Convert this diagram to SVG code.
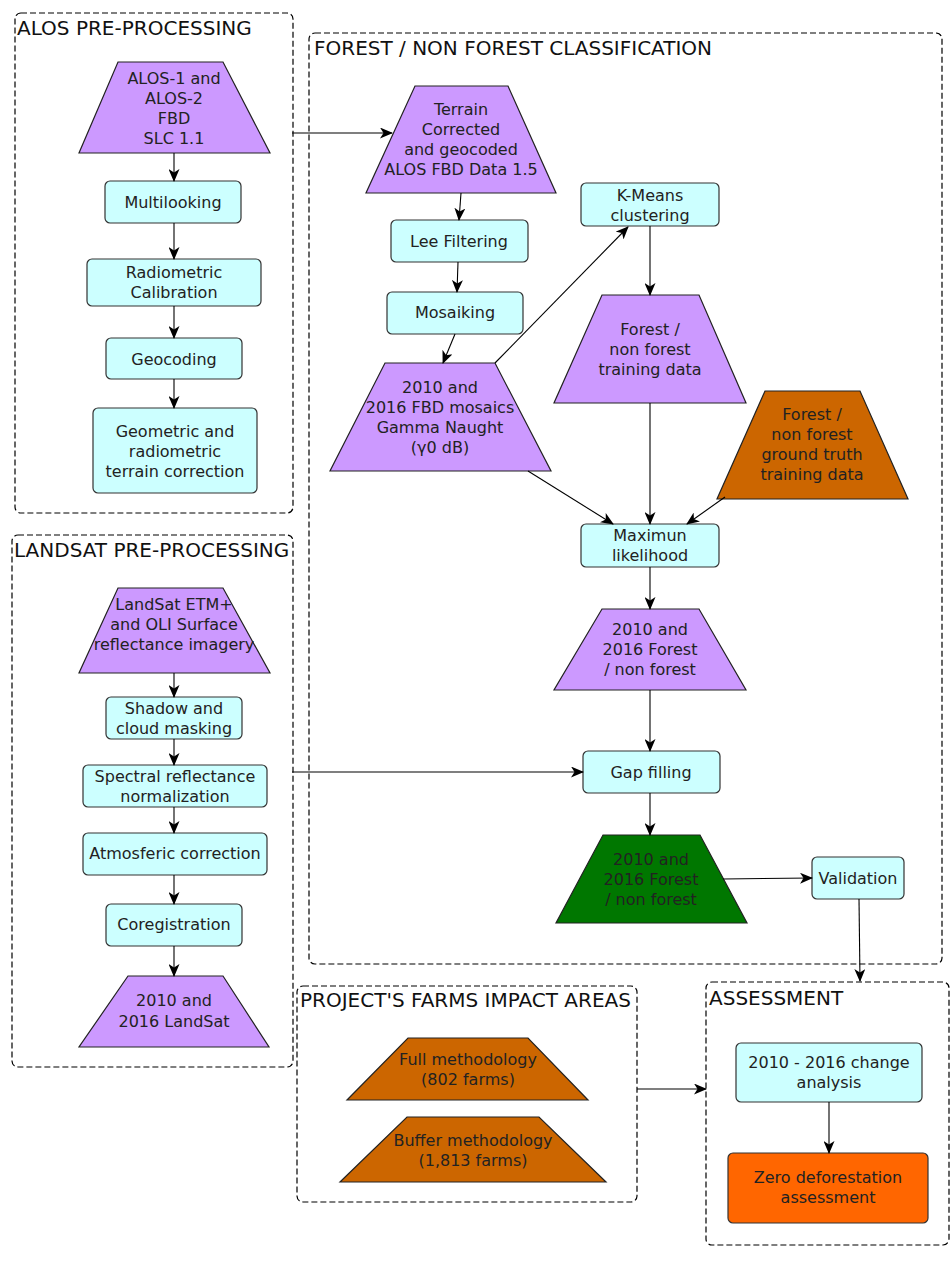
<svg xmlns="http://www.w3.org/2000/svg" width="952" height="1262" viewBox="0 0 952 1262">
<defs>
<marker id="arr" markerWidth="13" markerHeight="11" refX="12" refY="5.5" orient="auto" markerUnits="userSpaceOnUse">
<path d="M0,0 L13,5.5 L0,11 L3.5,5.5 z" fill="#000"/>
</marker>
<style>
.cont{fill:none;stroke:#000;stroke-width:1.2;stroke-dasharray:6,3}
.ttl{font-family:"DejaVu Sans",sans-serif;font-size:20px;fill:#111}
.box{fill:#CCFFFF;stroke:#333;stroke-width:1.2}
.pur{fill:#CC99FF;stroke:#222;stroke-width:1.2}
.org{fill:#CC6600;stroke:#222;stroke-width:1.2}
.grn{fill:#007700;stroke:#222;stroke-width:1.2}
.zero{fill:#FF6600;stroke:#333;stroke-width:1.2}
.t{font-family:"DejaVu Sans",sans-serif;font-size:16px;fill:#222;text-anchor:middle}
.con{fill:none;stroke:#000;stroke-width:1.1;marker-end:url(#arr)}
</style>
</defs>
<rect width="952" height="1262" fill="#fff"/>

<g id="containers">
<g id="alos-group"><rect class="cont" x="15" y="13" width="278" height="500" rx="6"/><text class="ttl" x="17" y="35">ALOS PRE-PROCESSING</text></g>
<g id="forest-group"><rect class="cont" x="309" y="33" width="633" height="931" rx="6"/><text class="ttl" x="314" y="55">FOREST / NON FOREST CLASSIFICATION</text></g>
<g id="landsat-group"><rect class="cont" x="12" y="535" width="281" height="532" rx="6"/><text class="ttl" x="14" y="557">LANDSAT PRE-PROCESSING</text></g>
<g id="farms-group"><rect class="cont" x="297" y="986" width="340" height="216" rx="6"/><text class="ttl" x="300" y="1007">PROJECT'S FARMS IMPACT AREAS</text></g>
<g id="assess-group"><rect class="cont" x="706" y="982" width="243" height="263" rx="6"/><text class="ttl" x="709" y="1005">ASSESSMENT</text></g>
</g>

<g id="alos-input"><polygon class="pur" points="118,62 223,62 270,153 79,153"/>
<text class="t" x="174" y="84">ALOS-1 and</text><text class="t" x="174" y="104">ALOS-2</text><text class="t" x="174" y="124">FBD</text><text class="t" x="174" y="144">SLC 1.1</text></g>
<g id="multilooking"><rect class="box" x="105" y="181" width="136" height="42" rx="5"/><text class="t" x="173" y="208">Multilooking</text></g>
<g id="radiometric"><rect class="box" x="87" y="259" width="174" height="47" rx="5"/><text class="t" x="174" y="278">Radiometric</text><text class="t" x="174" y="298">Calibration</text></g>
<g id="geocoding"><rect class="box" x="106" y="338" width="136" height="41" rx="5"/><text class="t" x="174" y="365">Geocoding</text></g>
<g id="terrain-correction"><rect class="box" x="93" y="408" width="164" height="85" rx="5"/><text class="t" x="175" y="437">Geometric and</text><text class="t" x="175" y="457">radiometric</text><text class="t" x="175" y="477">terrain correction</text></g>

<g id="landsat-input"><polygon class="pur" points="118,588 223,588 270,673 79,673"/>
<text class="t" x="174" y="610">LandSat ETM+</text><text class="t" x="174" y="630">and OLI Surface</text><text class="t" x="174" y="650">reflectance imagery</text></g>
<g id="shadow"><rect class="box" x="106" y="697" width="136" height="42" rx="5"/><text class="t" x="174" y="714">Shadow and</text><text class="t" x="174" y="734">cloud masking</text></g>
<g id="spectral"><rect class="box" x="83" y="765" width="184" height="42" rx="5"/><text class="t" x="175" y="782">Spectral reflectance</text><text class="t" x="175" y="802">normalization</text></g>
<g id="atmosferic"><rect class="box" x="83" y="833" width="184" height="42" rx="5"/><text class="t" x="175" y="859">Atmosferic correction</text></g>
<g id="coregistration"><rect class="box" x="106" y="904" width="136" height="42" rx="5"/><text class="t" x="174" y="930">Coregistration</text></g>
<g id="landsat-output"><polygon class="pur" points="128,976 223,976 269,1047 79,1047"/>
<text class="t" x="174" y="1006">2010 and</text><text class="t" x="174" y="1027">2016 LandSat</text></g>

<g id="terrain-data"><polygon class="pur" points="415,86 508,86 556,193 366,193"/>
<text class="t" x="461" y="115">Terrain</text><text class="t" x="461" y="135">Corrected</text><text class="t" x="461" y="155">and geocoded</text><text class="t" x="461" y="175">ALOS FBD Data 1.5</text></g>
<g id="lee"><rect class="box" x="391" y="220" width="137" height="42" rx="5"/><text class="t" x="459" y="247">Lee Filtering</text></g>
<g id="mosaiking"><rect class="box" x="387" y="292" width="136" height="42" rx="5"/><text class="t" x="455" y="318">Mosaiking</text></g>
<g id="mosaics"><polygon class="pur" points="385,363 495,363 551,471 330,471"/>
<text class="t" x="440" y="393">2010 and</text><text class="t" x="440" y="413">2016 FBD mosaics</text><text class="t" x="440" y="433">Gamma Naught</text><text class="t" x="440" y="453">(γ0 dB)</text></g>
<g id="kmeans"><rect class="box" x="581" y="183" width="138" height="43" rx="5"/><text class="t" x="650" y="201">K-Means</text><text class="t" x="650" y="221">clustering</text></g>
<g id="training"><polygon class="pur" points="602,295 699,295 746,403 554,403"/>
<text class="t" x="650" y="335">Forest /</text><text class="t" x="650" y="355">non forest</text><text class="t" x="650" y="375">training data</text></g>
<g id="ground-truth"><polygon class="org" points="765,391 860,391 908,499 717,499"/>
<text class="t" x="812" y="420">Forest /</text><text class="t" x="812" y="440">non forest</text><text class="t" x="812" y="460">ground truth</text><text class="t" x="812" y="480">training data</text></g>
<g id="maximun"><rect class="box" x="581" y="524" width="138" height="43" rx="5"/><text class="t" x="650" y="541">Maximun</text><text class="t" x="650" y="561">likelihood</text></g>
<g id="forest-nonforest"><polygon class="pur" points="602,609 699,609 746,690 554,690"/>
<text class="t" x="650" y="635">2010 and</text><text class="t" x="650" y="655">2016 Forest</text><text class="t" x="650" y="675">/ non forest</text></g>
<g id="gap"><rect class="box" x="583" y="751" width="137" height="42" rx="5"/><text class="t" x="651" y="778">Gap filling</text></g>
<g id="forest-final"><polygon class="grn" points="603,835 700,835 747,923 556,923"/>
<text class="t" x="651" y="865">2010 and</text><text class="t" x="651" y="885">2016 Forest</text><text class="t" x="651" y="905">/ non forest</text></g>
<g id="validation"><rect class="box" x="812" y="857" width="92" height="42" rx="5"/><text class="t" x="858" y="884">Validation</text></g>

<g id="full-method"><polygon class="org" points="408,1038 528,1038 588,1100 347,1100"/>
<text class="t" x="468" y="1065">Full methodology</text><text class="t" x="468" y="1085">(802 farms)</text></g>
<g id="buffer-method"><polygon class="org" points="407,1117 539,1117 606,1182 340,1182"/>
<text class="t" x="473" y="1146">Buffer methodology</text><text class="t" x="473" y="1166">(1,813 farms)</text></g>

<g id="change"><rect class="box" x="736" y="1043" width="186" height="59" rx="5"/><text class="t" x="829" y="1068">2010 - 2016 change</text><text class="t" x="829" y="1088">analysis</text></g>
<g id="zero"><rect class="zero" x="728" y="1153" width="200" height="70" rx="5"/><text class="t" x="828" y="1183">Zero deforestation</text><text class="t" x="828" y="1203">assessment</text></g>

<g id="connectors">
<line class="con" x1="174" y1="153" x2="174" y2="181"/>
<line class="con" x1="174" y1="223" x2="174" y2="259"/>
<line class="con" x1="174" y1="306" x2="174" y2="338"/>
<line class="con" x1="174" y1="379" x2="174" y2="408"/>
<line class="con" x1="292" y1="133" x2="392" y2="133"/>
<line class="con" x1="174" y1="673" x2="174" y2="697"/>
<line class="con" x1="174" y1="739" x2="174" y2="765"/>
<line class="con" x1="174" y1="807" x2="174" y2="833"/>
<line class="con" x1="174" y1="875" x2="174" y2="904"/>
<line class="con" x1="174" y1="946" x2="174" y2="976"/>
<line class="con" x1="292" y1="772" x2="583" y2="772"/>
<line class="con" x1="461" y1="193" x2="459" y2="220"/>
<line class="con" x1="458" y1="262" x2="457" y2="292"/>
<line class="con" x1="455" y1="334" x2="443" y2="363"/>
<line class="con" x1="495" y1="363" x2="628" y2="227"/>
<line class="con" x1="650" y1="226" x2="650" y2="295"/>
<line class="con" x1="528" y1="471" x2="613" y2="524"/>
<line class="con" x1="650" y1="403" x2="650" y2="524"/>
<line class="con" x1="725" y1="497" x2="687" y2="524"/>
<line class="con" x1="650" y1="567" x2="650" y2="609"/>
<line class="con" x1="650" y1="690" x2="650" y2="751"/>
<line class="con" x1="650" y1="793" x2="650" y2="835"/>
<line class="con" x1="723" y1="879" x2="812" y2="878"/>
<line class="con" x1="859" y1="899" x2="860" y2="981"/>
<line class="con" x1="637" y1="1089" x2="706" y2="1089"/>
<line class="con" x1="829" y1="1102" x2="829" y2="1153"/>
</g>
</svg>
